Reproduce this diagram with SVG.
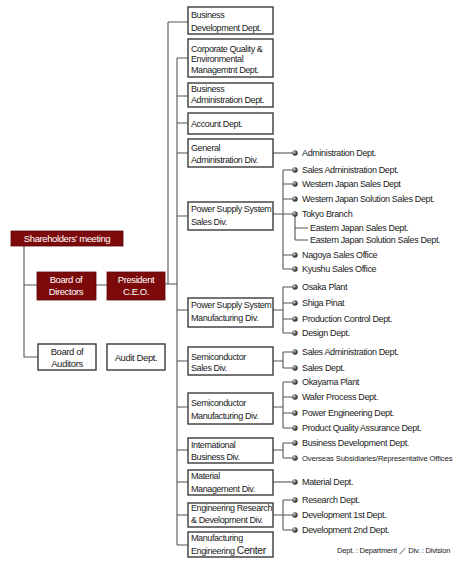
<svg xmlns="http://www.w3.org/2000/svg" width="457" height="562" viewBox="0 0 457 562">
<style>
text{font-family:"Liberation Sans",Arial,sans-serif;font-size:9px;letter-spacing:-0.4px;fill:#1a1a1a}
.w{fill:#fff;font-size:9.5px}
.c{text-anchor:middle}
.red{fill:#7d0a0a;stroke:#5a0505;stroke-width:0.8}
.box{fill:#fff;stroke:#3a3a3a;stroke-width:1.4}
.ln{stroke:#555;stroke-width:1.1;fill:none}
.r{font-size:9px;letter-spacing:-0.35px}
.fn{font-size:7.5px;letter-spacing:-0.2px}
</style>
<defs>
<radialGradient id="g" cx="0.35" cy="0.35" r="0.7">
<stop offset="0" stop-color="#ddd"/><stop offset="0.45" stop-color="#666"/><stop offset="1" stop-color="#222"/>
</radialGradient>
<symbol id="b" overflow="visible"><circle cx="0" cy="0" r="2.7" fill="url(#g)"/></symbol>
</defs>
<rect width="457" height="562" fill="#fff"/>
<g id="connectors">
<path class="ln" d="M24 246V357H38M24 285H37M96 285H107M165 284H177M168 22V284M168 22H188M177 58V545"/>
<path class="ln" d="M177 58H188M177 96H188M177 123H188M177 153H188M177 216H188M177 310H188M177 361H188M177 407H188M177 450H188M177 482H188M177 515H188M177 545H188"/>
<path class="ln" d="M273 153H293"/>
<path class="ln" d="M273 214H283M283 170V269M283 170H293M283 184H293M283 199H293M283 214H293M283 255H293M283 269H293M295 216V240M295 228H308M295 240H308"/>
<path class="ln" d="M273 310H283M283 287V333M283 287H293M283 303H293M283 319H293M283 333H293"/>
<path class="ln" d="M273 361H283M283 352V368M283 352H293M283 368H293"/>
<path class="ln" d="M273 407H283M283 382V428M283 382H293M283 397H293M283 413H293M283 428H293"/>
<path class="ln" d="M273 450H283M283 443V458M283 443H293M283 458H293"/>
<path class="ln" d="M273 482H293"/>
<path class="ln" d="M273 515H283M283 500V530M283 500H293M283 515H293M283 530H293"/>
</g>
<g id="shareholders"><rect class="red" x="11" y="231" width="112" height="15"/><text class="w c" x="67" y="242">Shareholders’ meeting</text></g>
<g id="board-directors"><rect class="red" x="37" y="272" width="59" height="28"/><text class="w c" x="66" y="283">Board of</text><text class="w c" x="66" y="295">Directors</text></g>
<g id="president"><rect class="red" x="107" y="272" width="58" height="28"/><text class="w c" x="136" y="283">President</text><text class="w c" x="136" y="295">C.E.O.</text></g>
<g id="board-auditors"><rect class="box" x="38" y="344" width="58" height="26"/><text class="c" x="67" y="355" style="font-size:9.5px">Board of</text><text class="c" x="67" y="367" style="font-size:9.5px">Auditors</text></g>
<g id="audit"><rect class="box" x="107" y="344" width="58" height="26"/><text class="c" x="136" y="361" style="font-size:9.5px">Audit Dept.</text></g>
<g id="d1"><rect class="box" x="188" y="7" width="85" height="27"/><text x="191" y="18">Business</text><text x="191" y="31">Development Dept.</text></g>
<g id="d2"><rect class="box" x="188" y="39" width="85" height="38"/><text x="191" y="52">Corporate Quality &amp;</text><text x="191" y="62">Environmental</text><text x="191" y="73">Managemtnt Dept.</text></g>
<g id="d3"><rect class="box" x="188" y="83" width="85" height="24"/><text x="191" y="92">Business</text><text x="191" y="103">Administration Dept.</text></g>
<g id="d4"><rect class="box" x="188" y="113" width="85" height="21"/><text x="191" y="127">Account Dept.</text></g>
<g id="d5"><rect class="box" x="188" y="139" width="85" height="28"/><text x="191" y="151">General</text><text x="191" y="163">Administration Div.</text></g>
<g id="d6"><rect class="box" x="188" y="202" width="85" height="28"/><text x="191" y="212">Power Supply System</text><text x="191" y="225">Sales Div.</text></g>
<g id="d7"><rect class="box" x="188" y="298" width="85" height="29"/><text x="191" y="308">Power Supply System</text><text x="191" y="321">Manufacturing Div.</text></g>
<g id="d8"><rect class="box" x="188" y="347" width="85" height="28"/><text x="191" y="360">Semiconductor</text><text x="191" y="371">Sales Div.</text></g>
<g id="d9"><rect class="box" x="188" y="393" width="85" height="31"/><text x="191" y="406">Semiconductor</text><text x="191" y="419">Manufacturing Div.</text></g>
<g id="d10"><rect class="box" x="188" y="438" width="85" height="25"/><text x="191" y="448">International</text><text x="191" y="460">Business Div.</text></g>
<g id="d11"><rect class="box" x="188" y="470" width="85" height="25"/><text x="191" y="479">Material</text><text x="191" y="492">Management Div.</text></g>
<g id="d12"><rect class="box" x="188" y="503" width="85" height="24"/><text x="191" y="511">Engineering Research</text><text x="191" y="523">&amp; Development Div.</text></g>
<g id="d13"><rect class="box" x="188" y="532" width="85" height="25"/><text x="191" y="541">Manufacturing</text><text x="191" y="554">Engineering <tspan style="font-size:10.5px">Center</tspan></text></g>
<g id="units">
<use href="#b" x="295" y="153"/><text class="r" x="302" y="156">Administration Dept.</text>
<use href="#b" x="295" y="170"/><text class="r" x="302" y="173">Sales Administration Dept.</text>
<use href="#b" x="295" y="184"/><text class="r" x="302" y="187">Western Japan Sales Dept</text>
<use href="#b" x="295" y="199"/><text class="r" x="302" y="202">Western Japan Solution Sales Dept.</text>
<use href="#b" x="295" y="214"/><text class="r" x="302" y="217">Tokyo Branch</text>
<text class="r" x="310" y="231">Eastern Japan Sales Dept.</text>
<text class="r" x="310" y="243">Eastern Japan Solution Sales Dept.</text>
<use href="#b" x="295" y="255"/><text class="r" x="302" y="258">Nagoya Sales Office</text>
<use href="#b" x="295" y="269"/><text class="r" x="302" y="272">Kyushu Sales Office</text>
<use href="#b" x="295" y="287"/><text class="r" x="302" y="290">Osaka Plant</text>
<use href="#b" x="295" y="303"/><text class="r" x="302" y="306">Shiga Pinat</text>
<use href="#b" x="295" y="319"/><text class="r" x="302" y="322">Production Control Dept.</text>
<use href="#b" x="295" y="333"/><text class="r" x="302" y="336">Design Dept.</text>
<use href="#b" x="295" y="352"/><text class="r" x="302" y="355">Sales Administration Dept.</text>
<use href="#b" x="295" y="368"/><text class="r" x="302" y="371">Sales Dept.</text>
<use href="#b" x="295" y="382"/><text class="r" x="302" y="385">Okayama Plant</text>
<use href="#b" x="295" y="397"/><text class="r" x="302" y="400">Wafer Process Dept.</text>
<use href="#b" x="295" y="413"/><text class="r" x="302" y="416">Power Engineering Dept.</text>
<use href="#b" x="295" y="428"/><text class="r" x="302" y="431">Product Quality Assurance Dept.</text>
<use href="#b" x="295" y="443"/><text class="r" x="302" y="446">Business Development Dept.</text>
<use href="#b" x="295" y="458"/><text x="302" y="461" style="font-size:7.6px;letter-spacing:-0.1px">Overseas Subsidiaries/Representative Offices</text>
<use href="#b" x="295" y="482"/><text class="r" x="302" y="485">Material Dept.</text>
<use href="#b" x="295" y="500"/><text class="r" x="302" y="503">Research Dept.</text>
<use href="#b" x="295" y="515"/><text class="r" x="302" y="518">Development 1st Dept.</text>
<use href="#b" x="295" y="530"/><text class="r" x="302" y="533">Development 2nd Dept.</text>
</g>
<text class="fn" x="337" y="553">Dept. : Department ／ Div. : Division</text>
</svg>
